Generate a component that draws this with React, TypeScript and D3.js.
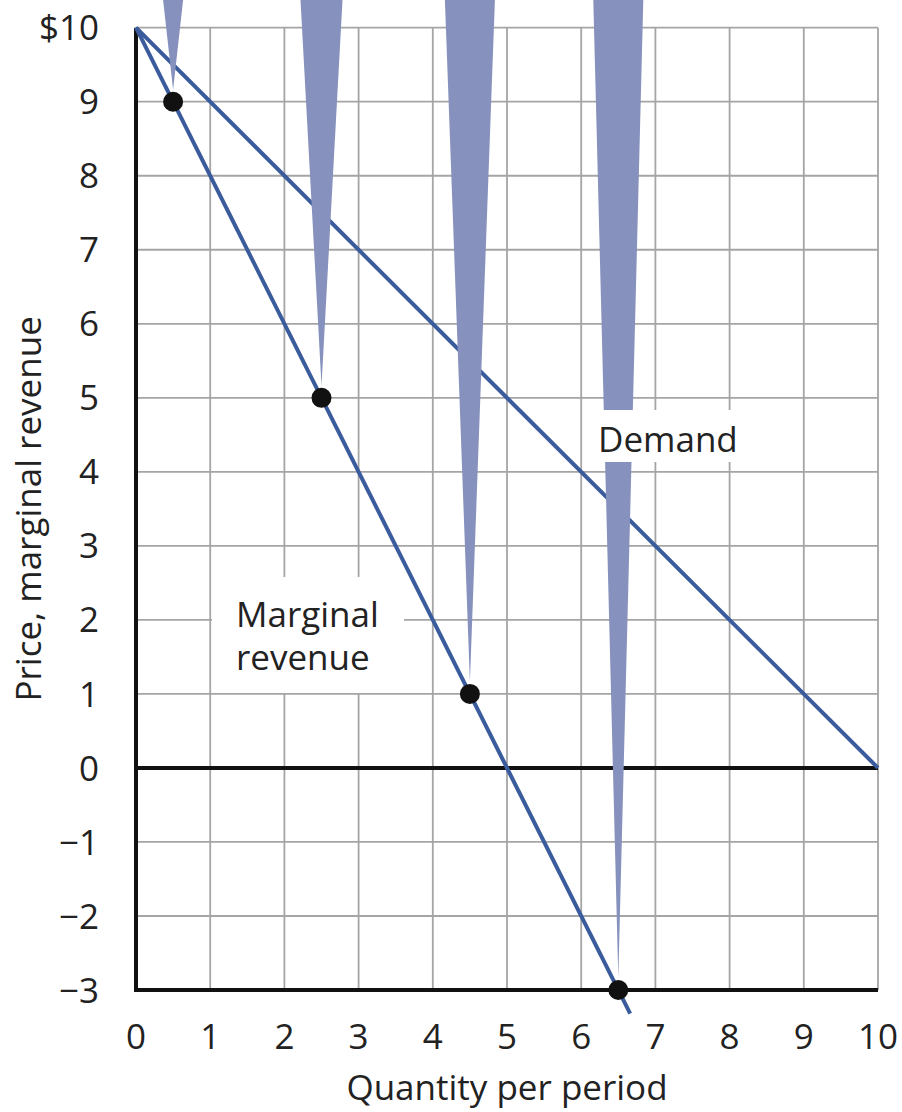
import React from "react";
import * as d3 from "d3";

const xTicks = [0, 1, 2, 3, 4, 5, 6, 7, 8, 9, 10];
const yTicks = [-3, -2, -1, 0, 1, 2, 3, 4, 5, 6, 7, 8, 9, 10];
const yTickLabels = ["−3", "−2", "−1", "0", "1", "2", "3", "4", "5", "6", "7", "8", "9", "$10"];

const demandQ = [0, 10];
const demandP = [10, 0];
const mrQ = [0, 6.66];
const mrP = [10, -3.32];
const pointQ = [0.5, 2.5, 4.5, 6.5];
const pointMR = [9, 5, 1, -3];

const W = 902;
const H = 1112;
const FONT = "'Open Sans', sans-serif";
const LINE = "#3a5b9c";
const WEDGE = "#8691bd";

export default function App() {
  const x = d3.scaleLinear().domain([0, 10]).range([136, 878]);
  const y = d3.scaleLinear().domain([-3, 10]).range([990, 27.7]);
  const line = d3
    .line<[number, number]>()
    .x((d) => x(d[0]))
    .y((d) => y(d[1]));

  const demand = demandQ.map((q, i) => [q, demandP[i]] as [number, number]);
  const mr = mrQ.map((q, i) => [q, mrP[i]] as [number, number]);
  const wedgeTop = [20, 42, 50, 50];

  return (
    <svg
      width={W}
      height={H}
      style={{ position: "absolute", left: 0, top: 0, background: "#fff" }}
      fontFamily={FONT}
    >
      <rect x={0} y={0} width={W} height={H} fill="#fff" />
      {/* grid */}
      <g stroke="#a5a5a5" strokeWidth={1.8}>
        {xTicks.map((t) => (
          <line key={"gx" + t} x1={x(t)} x2={x(t)} y1={y(10)} y2={y(-3)} />
        ))}
        {yTicks.map((t) => (
          <line key={"gy" + t} x1={x(0)} x2={x(10)} y1={y(t)} y2={y(t)} />
        ))}
      </g>
      {/* Marginal revenue label box */}
      <rect x={212} y={577} width={192} height={116} fill="#fff" />
      {/* axes */}
      <g stroke="#111" strokeWidth={4}>
        <line x1={x(0)} x2={x(0)} y1={y(10)} y2={y(-3) + 2} />
        <line x1={x(0) - 2} x2={x(10)} y1={y(-3)} y2={y(-3)} />
        <line x1={x(0)} x2={x(10)} y1={y(0)} y2={y(0)} />
      </g>
      {/* curves */}
      <path d={line(demand) || ""} fill="none" stroke={LINE} strokeWidth={4} />
      <path d={line(mr) || ""} fill="none" stroke={LINE} strokeWidth={4} />
      {/* wedges */}
      {pointQ.map((q, i) => {
        const cx = x(q);
        const cy = y(pointMR[i]) - 12;
        const w = wedgeTop[i];
        return (
          <path
            key={"w" + i}
            d={`M${cx - w / 2},0 L${cx + w / 2},0 L${cx},${cy} Z`}
            fill={WEDGE}
          />
        );
      })}
      {/* points */}
      {pointQ.map((q, i) => (
        <circle key={"p" + i} cx={x(q)} cy={y(pointMR[i])} r={10} fill="#111" />
      ))}
      {/* Demand label */}
      <rect x={585} y={410} width={160} height={52} fill="#fff" />
      <text x={598} y={452} fontSize={35} fill="#222">
        Demand
      </text>
      <text x={236} y={627} fontSize={35} fill="#222">
        Marginal
      </text>
      <text x={236} y={670} fontSize={35} fill="#222">
        revenue
      </text>
      {/* tick labels */}
      {xTicks.map((t) => (
        <text key={"tx" + t} x={x(t)} y={1049} fontSize={35} textAnchor="middle" fill="#222">
          {t}
        </text>
      ))}
      {yTicks.map((t, i) => (
        <text
          key={"ty" + t}
          x={99}
          y={y(t)}
          dy="0.36em"
          fontSize={35}
          textAnchor="end"
          fill="#222"
        >
          {yTickLabels[i]}
        </text>
      ))}
      <text x={(x(0) + x(10)) / 2} y={1100} fontSize={35} textAnchor="middle" fill="#222">
        Quantity per period
      </text>
      <text
        transform={`translate(41,${(y(10) + y(-3)) / 2}) rotate(-90)`}
        fontSize={35}
        textAnchor="middle"
        fill="#222"
      >
        Price, marginal revenue
      </text>
    </svg>
  );
}
